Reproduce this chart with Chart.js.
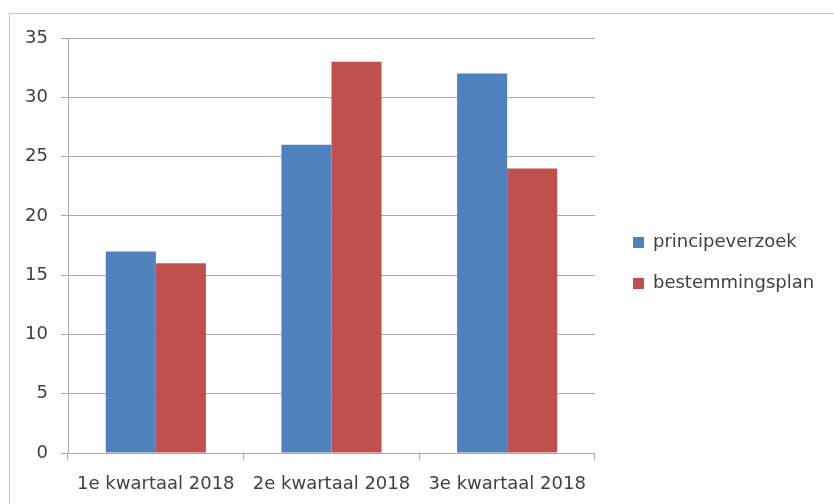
<!DOCTYPE html>
<html>
<head>
<meta charset="utf-8">
<script src="https://cdn.jsdelivr.net/npm/chart.js@4.4.1/dist/chart.umd.min.js"></script>
<style>
    body { margin: 0; background: #fff; overflow: hidden; }
    #wrap { position: relative; width: 834px; height: 504px; }
    #frame { position: absolute; left: 9px; top: 13px; width: 900px; height: 600px; border: 1px solid #c4c4c4; }
    #kwartaal-chart { position: absolute; left: 0; top: 0; }
</style>
</head>
<body>
<div id="wrap">
    <div id="frame"></div>
    <canvas id="kwartaal-chart" width="834" height="504"></canvas>
</div>
<script>
// Chart data
var categories = ["1e kwartaal 2018", "2e kwartaal 2018", "3e kwartaal 2018"];
var principeverzoek = [17, 26, 32];
var bestemmingsplan = [16, 33, 24];
var yTicks = [0, 5, 10, 15, 20, 25, 30, 35];

var gridColor = "#a9a9a9";
var textColor = "#404040";
var fontFamily = "'DejaVu Sans', sans-serif";

Chart.defaults.font.family = fontFamily;
Chart.defaults.font.size = 18;
Chart.defaults.color = textColor;

var ctx = document.getElementById("kwartaal-chart");

// legend box gets capped in width by the layout, let it use the space up to the edge
var legendRoom = {
    id: "legendRoom",
    afterLayout: function (chart) {
        chart.legend.right = chart.width;
        chart.legend.width = chart.legend.right - chart.legend.left;
    },
};

var chartData = {
    labels: categories,
    datasets: [
        {
            label: "principeverzoek",
            data: principeverzoek,
            backgroundColor: "#4F81BD",
            borderWidth: 0,
        },
        {
            label: "bestemmingsplan",
            data: bestemmingsplan,
            backgroundColor: "#C0504D",
            borderWidth: 0,
        },
    ],
};

var chartOptions = {
    responsive: false,
    animation: false,
    layout: {
        padding: { top: 14, bottom: 7, left: 24, right: 48.7 },
    },
    datasets: {
        bar: { categoryPercentage: 0.57, barPercentage: 1 },
    },
    scales: {
        x: {
            grid: {
                display: true,
                offset: true,
                drawOnChartArea: false,
                drawTicks: true,
                tickLength: 7,
                color: gridColor,
            },
            border: { display: true, color: gridColor },
            ticks: {
                padding: 14,
                maxRotation: 0,
                autoSkip: false,
            },
            afterFit: function (scale) {
                scale.height = 44;
            },
        },
        y: {
            min: yTicks[0],
            max: yTicks[yTicks.length - 1],
            grid: {
                color: gridColor,
                tickLength: 7,
            },
            border: { display: true, color: gridColor },
            ticks: {
                stepSize: yTicks[1] - yTicks[0],
                padding: 13,
            },
            afterFit: function (scale) {
                scale.width = 44;
            },
        },
    },
    plugins: {
        tooltip: { enabled: false },
        // empty title, only used as a spacer above the plot
        title: {
            display: true,
            text: "",
            fullSize: false,
            padding: 0,
            font: { size: 10, lineHeight: "24px" },
        },
        legend: {
            position: "right",
            fullSize: true,
            labels: {
                boxWidth: 11,
                boxHeight: 11,
                padding: 38,
                font: { size: 18, lineHeight: "3px" },
                // single-line array text so the row spacing follows lineHeight
                generateLabels: function (chart) {
                    var items = Chart.defaults.plugins.legend.labels.generateLabels(chart);
                    return items.map(function (item) {
                        item.text = [item.text];
                        item.lineWidth = 0;
                        return item;
                    });
                },
            },
        },
    },
};

var config = {
    type: "bar",
    options: chartOptions,
    data: chartData,
    plugins: [legendRoom],
};

var kwartaalChart = new Chart(ctx, config);
</script>
</body>
</html>
